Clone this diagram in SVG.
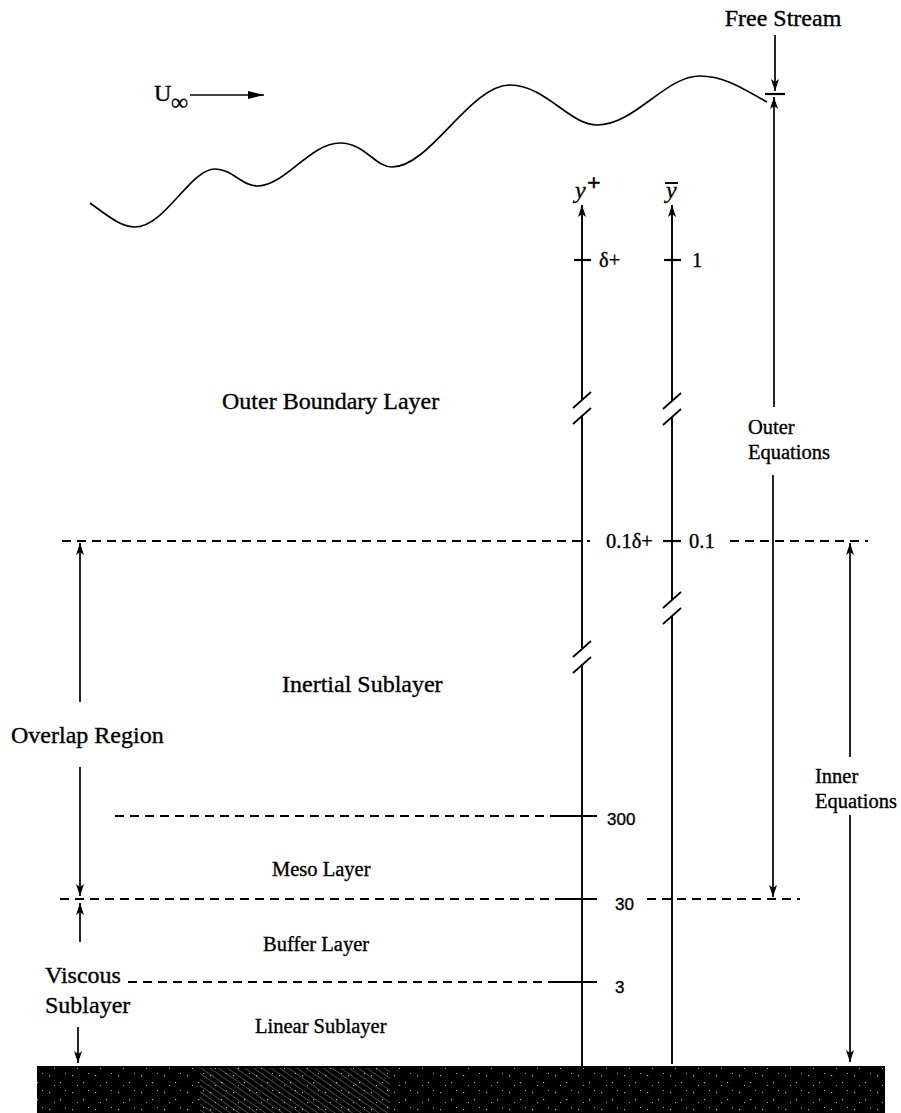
<svg xmlns="http://www.w3.org/2000/svg" width="901" height="1113" viewBox="0 0 901 1113">
<defs>
<style>
.ln{stroke:#000;stroke-width:1.7;fill:none}
.ax{stroke:#000;stroke-width:1.9;fill:none}
.dash{stroke:#000;stroke-width:2;stroke-dasharray:9 6;fill:none}
.tk{stroke:#000;stroke-width:2.2;fill:none}
text{stroke:#000;stroke-width:0.35}
.big{font-family:"Liberation Serif",serif;font-size:24px;fill:#000}
.med{font-family:"Liberation Serif",serif;font-size:20.5px;fill:#000}
.num{font-family:"Liberation Sans",sans-serif;font-size:17px;fill:#000}
</style>
<marker id="ah" viewBox="0 0 12 8" refX="12" refY="4" markerWidth="12" markerHeight="8" markerUnits="userSpaceOnUse" orient="auto">
<path d="M0,0 L12,4 L0,8 L3,4 z" fill="#000"/>
</marker>
<marker id="ahb" viewBox="0 0 16 8" refX="16" refY="4" markerWidth="16" markerHeight="8" markerUnits="userSpaceOnUse" orient="auto">
<path d="M0,0 L16,4 L0,8 z" fill="#000"/>
</marker>
<pattern id="hatch" width="5" height="5" patternUnits="userSpaceOnUse" patternTransform="rotate(-55)">
<line x1="0" y1="0" x2="0" y2="5" stroke="#fff" stroke-width="0.8" stroke-opacity="0.7"/>
</pattern>
<pattern id="speck" width="23" height="17" patternUnits="userSpaceOnUse">
<rect x="3" y="4" width="1.2" height="1.2" fill="#fff"/>
<rect x="14" y="11" width="1.2" height="1.2" fill="#fff"/>
<rect x="19" y="2" width="1" height="1" fill="#fff"/>
<rect x="8" y="14" width="1" height="1" fill="#fff"/>
</pattern>
</defs>
<rect width="901" height="1113" fill="#fff"/>

<g id="free-stream-surface">
<path class="ln" stroke-width="2.3" d="M90,203 C108,216 121,227 135,227 C165,227 190,169 215,169 C232,169 242,186 257,186 C285,186 310,143 340,143 C365,143 375,167 392,167 C430,167 470,85 510,85 C545,85 570,125 597,125 C635,125 665,76 700,76 C725,76 745,90 767,102"/>
</g>

<g id="u-infinity">
<text class="big" x="154" y="101" font-size="20">U</text>
<text class="big" x="171" y="110" font-size="17">∞</text>
<line class="ln" x1="190" y1="95" x2="264" y2="95" marker-end="url(#ahb)"/>
</g>

<g id="free-stream">
<text class="big" x="783" y="26" text-anchor="middle">Free Stream</text>
</g>

<g id="wall">
<rect x="37" y="1066" width="848" height="47" fill="#000"/>
<rect x="37" y="1068" width="848" height="45" fill="url(#speck)" opacity="0.7"/>
<rect x="200" y="1068" width="190" height="45" fill="url(#hatch)"/>
</g>

<g id="connectors">
<path class="ax" d="M582,1066 L582,664 M582,648 L582,416 M582,400 L582,205" marker-end="url(#ah)"/>
<path class="ln" d="M573,408 L591,392 M573,424 L591,408 M573,657 L591,641 M573,673 L591,657"/>
<path class="ax" d="M672,1064 L672,616 M672,600 L672,417 M672,401 L672,205" marker-end="url(#ah)"/>
<path class="ln" d="M663,409 L681,393 M663,425 L681,409 M663,608 L681,592 M663,624 L681,608"/>
<line class="tk" x1="574" y1="260" x2="591" y2="260"/>
<line class="tk" x1="664" y1="260" x2="681" y2="260"/>
<line class="tk" x1="663" y1="541" x2="681" y2="541"/>
<line class="ln" x1="775" y1="35" x2="775" y2="91" marker-end="url(#ah)"/>
<line class="tk" x1="765" y1="94" x2="785" y2="94"/>
<line class="ln" x1="774" y1="407" x2="774" y2="97" marker-end="url(#ah)"/>
<line class="ln" x1="773" y1="475" x2="773" y2="897" marker-end="url(#ah)"/>
<line class="ln" x1="850" y1="757" x2="850" y2="543" marker-end="url(#ah)"/>
<line class="ln" x1="850" y1="815" x2="850" y2="1062" marker-end="url(#ah)"/>
<line class="ln" x1="80" y1="702" x2="80" y2="543" marker-end="url(#ah)"/>
<line class="ln" x1="80" y1="767" x2="80" y2="896" marker-end="url(#ah)"/>
<line class="ln" x1="80" y1="942" x2="80" y2="903" marker-end="url(#ah)"/>
<line class="ln" x1="78" y1="1027" x2="78" y2="1063" marker-end="url(#ah)"/>
<line class="dash" x1="62" y1="541" x2="590" y2="541"/>
<line class="dash" x1="730" y1="541" x2="868" y2="541"/>
<line class="dash" x1="115" y1="816" x2="557" y2="816"/>
<line class="tk" x1="557" y1="816" x2="597" y2="816"/>
<line class="dash" x1="60" y1="899" x2="557" y2="899"/>
<line class="tk" x1="557" y1="899" x2="597" y2="899"/>
<line class="dash" x1="647" y1="899" x2="800" y2="899"/>
<line class="dash" x1="128" y1="982" x2="557" y2="982"/>
<line class="tk" x1="557" y1="982" x2="597" y2="982"/>
</g>

<g id="axis-labels">
<text class="big" x="575" y="198" font-style="italic" font-size="21">y</text>
<text class="big" x="587" y="190" font-size="15" font-weight="bold">+</text>
<text class="big" x="666" y="198" font-style="italic" font-size="21">y</text>
<line x1="665" y1="183" x2="678" y2="183" stroke="#000" stroke-width="2"/>
<text class="med" x="599" y="267" font-size="19">δ+</text>
<text class="med" x="692" y="267" font-size="19">1</text>
<text class="med" x="606" y="548" font-size="19">0.1δ+</text>
<text class="med" x="689" y="548" font-size="19">0.1</text>
<text class="num" x="607" y="825">300</text>
<text class="num" x="615" y="910">30</text>
<text class="num" x="615" y="993">3</text>
</g>

<g id="outer-boundary-layer"><text class="big" x="222" y="409">Outer Boundary Layer</text></g>
<g id="inertial-sublayer"><text class="big" x="282" y="692">Inertial Sublayer</text></g>
<g id="meso-layer"><text class="med" x="272" y="876">Meso Layer</text></g>
<g id="buffer-layer"><text class="med" x="263" y="951">Buffer Layer</text></g>
<g id="linear-sublayer"><text class="med" x="255" y="1033">Linear Sublayer</text></g>
<g id="overlap-region"><text class="big" x="11" y="743">Overlap Region</text></g>
<g id="viscous-sublayer"><text class="big" x="45" y="983">Viscous</text><text class="big" x="45" y="1013">Sublayer</text></g>
<g id="outer-equations"><text class="med" x="748" y="434">Outer</text><text class="med" x="748" y="459">Equations</text></g>
<g id="inner-equations"><text class="med" x="815" y="783">Inner</text><text class="med" x="815" y="808">Equations</text></g>
</svg>
